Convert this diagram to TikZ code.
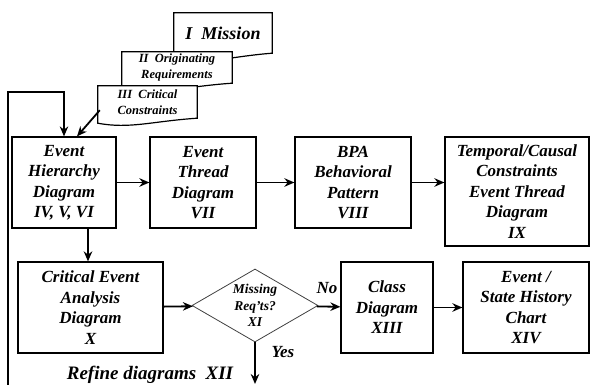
\documentclass[tikz,border=0pt]{standalone}
\usepackage{fontspec}
\setmainfont{Liberation Serif}[
  BoldItalicFont={Liberation Serif Bold Italic},
  BoldFont={Liberation Serif Bold},
  ItalicFont={Liberation Serif Italic}]
\usetikzlibrary{arrows.meta,shapes.geometric,positioning}

\begin{document}
\begin{tikzpicture}[x=1pt,y=-1pt,
  blk/.style={draw,line width=1.2pt,align=center,inner sep=0pt,
    font=\fontsize{17}{20.5}\selectfont\bfseries\itshape},
  doc/.style={align=center,inner sep=0pt,
    font=\fontsize{12.5}{15.5}\selectfont\bfseries\itshape},
  docline/.style={draw,fill=white,line width=1.2pt},
  lbl/.style={font=\fontsize{17}{20}\selectfont\bfseries\itshape},
  flow/.style={-{Stealth[length=10pt,width=8.5pt]},line width=1.8pt}]
\useasboundingbox (0,0) rectangle (592,385);

% documents
\node[doc,minimum width=98pt,minimum height=40pt] (mis) at (223,33) {};
\draw[docline] (mis.north west) -- (mis.north east) -- (mis.south east)
  .. controls +(-40,3) and +(30,6) .. ([shift={(0,6)}]mis.south west) -- cycle;
\node[lbl,font=\fontsize{18}{20}\selectfont\bfseries\itshape] at (mis) {I\ \ Mission};
\node[doc,minimum width=110pt,minimum height=31pt] (req) at (177,67.5) {};
\draw[docline] (req.north west) -- (req.north east) -- (req.south east)
  .. controls +(-45,3) and +(35,6) .. ([shift={(0,6)}]req.south west) -- cycle;
\node[doc] at (req) {II\ \ Originating\\Requirements};
\node[doc,minimum width=99pt,minimum height=32pt] (crit) at (147.5,102) {};
\draw[docline] (crit.north west) -- (crit.north east) -- (crit.south east)
  .. controls +(-45,3) and +(32,6) .. ([shift={(0,5)}]crit.south west) -- cycle;
\node[doc] at (crit) {III\ \ Critical\\Constraints};

% top row
\node[blk,minimum width=104pt,minimum height=91pt] (EH) at (64,182.5) {Event\\Hierarchy\\Diagram\\IV, V, VI};
\node[blk,minimum width=106pt,minimum height=91pt] (ET) at (203,182.5) {Event\\Thread\\Diagram\\VII};
\node[blk,minimum width=116pt,minimum height=91pt] (BPA) at (353,182.5) {BPA\\Behavioral\\Pattern\\VIII};
\node[blk,minimum width=144pt,minimum height=109pt] (TC) at (517,191.5) {Temporal/Causal\\Constraints\\Event Thread\\Diagram\\IX};

% bottom row
\node[blk,minimum width=145pt,minimum height=91pt] (CEA) at (90.5,307.5) {Critical Event\\Analysis\\Diagram\\X};
\node[draw=black!75,line width=0.8pt,diamond,aspect=1.73,inner sep=0pt,
  minimum width=126pt,minimum height=73pt,align=center,
  font=\fontsize{13.5}{16.5}\selectfont\bfseries\itshape] (dia) at (255,305.5) {Missing\\Req'ts?\\XI};
\node[blk,minimum width=92pt,minimum height=91pt] (CD) at (387,307.5) {Class\\Diagram\\XIII};
\node[blk,minimum width=126pt,minimum height=91pt] (SH) at (526,307.5) {Event /\\State History\\Chart\\XIV};

\node[lbl] (no) at (327,288) {No};
\node[lbl] (yes) at (283,352) {Yes};
\node[lbl,font=\fontsize{19}{20}\selectfont\bfseries\itshape] (ref) at (150,375) {Refine diagrams\ \ XII};

\coordinate (lbot) at (8,390);
\coordinate (ltop) at (8,92);
\coordinate (ybot) at (255,384);

\path[flow]
(EH) edge (ET)
(ET) edge (BPA)
(BPA.east) edge (BPA.east -| TC.west)
(CEA) edge (dia)
(dia) edge (CD)
(CD) edge (SH)
(dia.south) edge (ybot)
([shift={(24,0)}]EH.south) edge ([shift={(24,0)}]EH.south |- CEA.north)
([shift={(2,-8)}]crit.south west) edge ([shift={(13,0)}]EH.north);
\draw[flow,line width=1.4pt] (lbot) -- (ltop) -| (EH.north);
\end{tikzpicture}
\end{document}
